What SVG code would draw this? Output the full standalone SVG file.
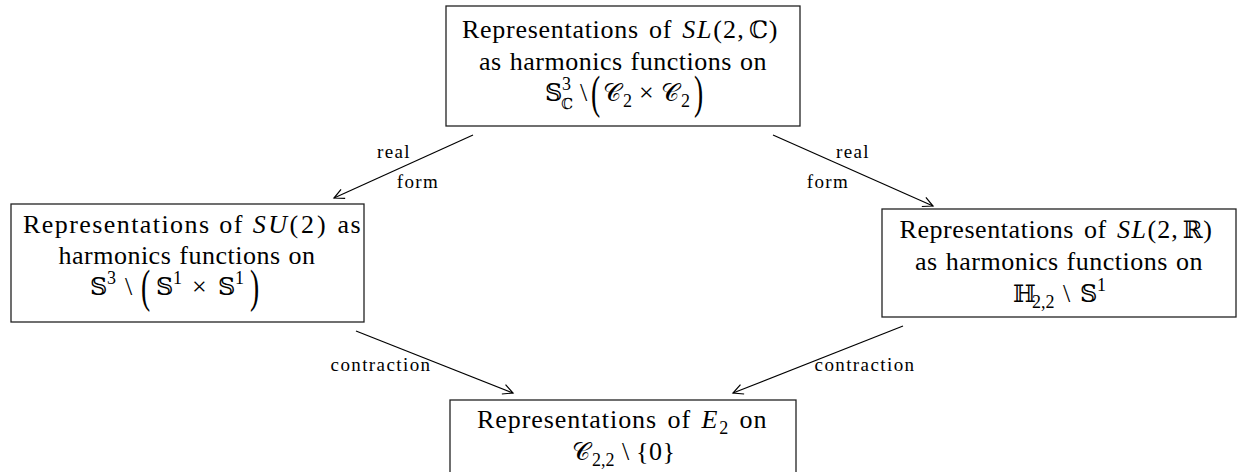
<svg xmlns="http://www.w3.org/2000/svg" width="1240" height="472" viewBox="0 0 1240 472">
<style>
.box{fill:#fff;stroke:#222;stroke-width:1.3}
.t{font-family:"Liberation Serif",serif;font-size:26px;letter-spacing:0.5px;word-spacing:1px;fill:#000}
.w{word-spacing:3px}
.i{font-style:italic;letter-spacing:1.5px}
.bb{font-family:"DejaVu Serif",serif;font-size:24px;fill:#000}
.s{font-family:"Liberation Serif",serif;font-size:18px;fill:#000}
.sb{font-family:"DejaVu Serif",serif;font-size:15px;fill:#000}
.p{font-family:"Liberation Serif",serif;font-size:46px;fill:#000}
.cal{font-family:"DejaVu Serif",serif;font-size:25px;fill:#000}
.l{font-family:"Liberation Serif",serif;font-size:19px;letter-spacing:1.4px;fill:#000;text-anchor:middle}
.c{stroke:#000;stroke-width:1.2;fill:none}
</style>
<defs>
<marker id="ah" viewBox="-12 -7 14 14" refX="0" refY="0" markerWidth="14" markerHeight="14" markerUnits="userSpaceOnUse" orient="auto">
<path d="M-10,-5 Q-3,-1.5 0,0 Q-3,1.5 -10,5" fill="none" stroke="#000" stroke-width="1.2"/>
</marker>
</defs>

<g id="top">
<rect class="box" x="446" y="6" width="354" height="120"/>
<text class="t w" x="620" y="38" text-anchor="middle" textLength="316" lengthAdjust="spacing">Representations of <tspan class="i">SL</tspan><tspan letter-spacing="1">(2,</tspan><tspan class="bb" dx="4">ℂ</tspan>)</text>
<text class="t" x="623" y="70" text-anchor="middle" textLength="288" lengthAdjust="spacing">as harmonics functions on</text>
<g transform="translate(545,101)">
<text class="bb" x="0" y="0">𝕊</text>
<text class="s" x="17" y="-11">3</text>
<text class="sb" x="16" y="8">ℂ</text>
<text class="t" x="35" y="0">\</text>
<text class="p" transform="translate(46,7) scale(0.6,1)">(</text>
<text class="cal" x="58" y="0">𝒞</text>
<text class="s" x="78" y="6">2</text>
<text class="t" x="94" y="0">×</text>
<text class="cal" x="116" y="0">𝒞</text>
<text class="s" x="136" y="6">2</text>
<text class="p" transform="translate(149,7) scale(0.6,1)">)</text>
</g>
</g>

<g id="left">
<rect class="box" x="11" y="204" width="353" height="118"/>
<text class="t" x="192" y="233" text-anchor="middle" textLength="338" lengthAdjust="spacing">Representations of <tspan class="i" letter-spacing="3">SU</tspan><tspan letter-spacing="2">(2)</tspan> as</text>
<text class="t" x="187" y="264" text-anchor="middle">harmonics functions on</text>
<g transform="translate(90,295)">
<text class="bb" x="0" y="0">𝕊</text>
<text class="s" x="17" y="-11">3</text>
<text class="t" x="35" y="0">\</text>
<text class="p" transform="translate(51,7) scale(0.6,1)">(</text>
<text class="bb" x="66" y="0">𝕊</text>
<text class="s" x="83" y="-11">1</text>
<text class="t" x="102" y="0">×</text>
<text class="bb" x="128" y="0">𝕊</text>
<text class="s" x="145" y="-11">1</text>
<text class="p" transform="translate(160,7) scale(0.6,1)">)</text>
</g>
</g>

<g id="right">
<rect class="box" x="882" y="209" width="354" height="108"/>
<text class="t w" x="1056" y="238" text-anchor="middle" textLength="313" lengthAdjust="spacing">Representations of <tspan class="i">SL</tspan><tspan letter-spacing="1">(2,</tspan><tspan class="bb" dx="4">ℝ</tspan>)</text>
<text class="t" x="1059" y="270" text-anchor="middle" textLength="288" lengthAdjust="spacing">as harmonics functions on</text>
<g transform="translate(1013,302)">
<text class="bb" x="0" y="0">ℍ</text>
<text class="s" x="19" y="6">2,2</text>
<text class="t" x="50" y="0">\</text>
<text class="bb" x="67" y="0">𝕊</text>
<text class="s" x="84" y="-11">1</text>
</g>
</g>

<g id="bottom">
<rect class="box" x="450" y="400" width="346" height="80"/>
<text class="t w" x="622" y="428" text-anchor="middle" textLength="290" lengthAdjust="spacing">Representations of <tspan class="i">E</tspan><tspan font-size="18" dy="6">2</tspan><tspan dy="-6"> on</tspan></text>
<g transform="translate(572,460)">
<text class="cal" x="0" y="0">𝒞</text>
<text class="s" x="20" y="6">2,2</text>
<text class="t" x="50" y="0">\</text>
<text class="t" x="64" y="0">{0}</text>
</g>
</g>

<g id="connectors">
<line class="c" x1="473" y1="135" x2="334" y2="198" marker-end="url(#ah)"/>
<line class="c" x1="773" y1="135" x2="933" y2="206" marker-end="url(#ah)"/>
<line class="c" x1="356" y1="331" x2="513" y2="393" marker-end="url(#ah)"/>
<line class="c" x1="903" y1="326" x2="733" y2="393" marker-end="url(#ah)"/>
<text class="l" x="394" y="158">real</text>
<text class="l" x="418" y="188">form</text>
<text class="l" x="853" y="158">real</text>
<text class="l" x="828" y="188">form</text>
<text class="l" x="381" y="371">contraction</text>
<text class="l" x="865" y="371">contraction</text>
</g>
</svg>
